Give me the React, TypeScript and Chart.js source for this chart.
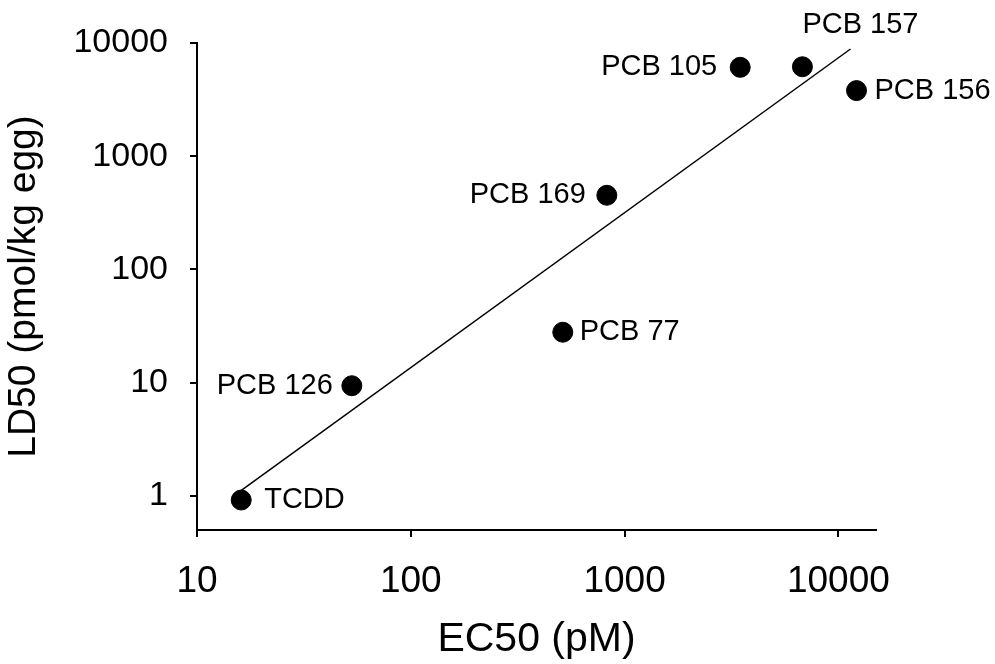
import React, { useEffect, useRef } from "react";
import { Chart, registerables } from "chart.js";

Chart.register(...registerables);

// ---- data ----
const compounds = ["TCDD", "PCB 126", "PCB 77", "PCB 169", "PCB 105", "PCB 157", "PCB 156"];
const ec50 = [16.1, 53, 514, 826, 3475, 6790, 12160];
const ld50 = [0.92, 9.4, 27.9, 452, 6100, 6170, 3800];
const fitX = [16.0, 11400];
const fitY = [1.11, 8850];
const xTicks = [10, 100, 1000, 10000];
const yTicks = [1, 10, 100, 1000, 10000];

// ---- label placement (style) ----
const labelPlacement: Record<string, { side: "left" | "right" | "above"; gap: number }> = {
  "TCDD": { side: "right", gap: 23 },
  "PCB 126": { side: "left", gap: 19 },
  "PCB 77": { side: "right", gap: 17 },
  "PCB 169": { side: "left", gap: 21 },
  "PCB 105": { side: "left", gap: 23 },
  "PCB 157": { side: "above", gap: 42 },
  "PCB 156": { side: "right", gap: 18 },
};

const FONT = "'Liberation Sans', Arial, Helvetica, sans-serif";

const pointLabels = {
  id: "pointLabels",
  afterDatasetsDraw(chart: any) {
    const meta = chart.getDatasetMeta(1);
    const ctx = chart.ctx;
    ctx.save();
    ctx.fillStyle = "#000";
    ctx.font = `29px ${FONT}`;
    ctx.textBaseline = "middle";
    meta.data.forEach((el: any, i: number) => {
      const name = compounds[i];
      const p = labelPlacement[name];
      if (p.side === "right") {
        ctx.textAlign = "left";
        ctx.fillText(name, el.x + p.gap, el.y);
      } else if (p.side === "left") {
        ctx.textAlign = "right";
        ctx.fillText(name, el.x - p.gap, el.y);
      } else {
        ctx.textAlign = "left";
        ctx.fillText(name, el.x, el.y - p.gap);
      }
    });
    ctx.restore();
  },
};

export default function App() {
  const ref = useRef<HTMLCanvasElement>(null);
  useEffect(() => {
    if (!ref.current) return;
    const chart = new Chart(ref.current, {
      type: "scatter",
      data: {
        datasets: [
          {
            label: "fit",
            data: fitX.map((x, i) => ({ x, y: fitY[i] })),
            showLine: true,
            borderColor: "#000",
            borderWidth: 1.5,
            pointRadius: 0,
            pointHoverRadius: 0,
          },
          {
            label: "compounds",
            data: ec50.map((x, i) => ({ x, y: ld50[i] })),
            backgroundColor: "#000",
            borderColor: "#000",
            pointRadius: 10,
            pointHoverRadius: 10,
            clip: false as any,
          },
        ],
      },
      options: {
        animation: false,
        responsive: false,
        events: [],
        layout: { padding: { left: 0, right: 119, top: 43, bottom: 0 } },
        plugins: {
          legend: { display: false },
          tooltip: { enabled: false },
        },
        scales: {
          x: {
            type: "logarithmic",
            min: 10,
            max: 15000,
            afterBuildTicks: (scale: any) => {
              scale.ticks = xTicks.map((v) => ({ value: v }));
            },
            afterFit: (scale: any) => {
              scale.height = 134;
            },
            border: { display: true, color: "#000", width: 2 },
            grid: { drawOnChartArea: false, drawTicks: true, tickLength: 7, color: "#000", lineWidth: 2 },
            ticks: {
              color: "#000",
              font: { family: FONT, size: 37 },
              padding: 23,
              maxRotation: 0,
              autoSkip: false,
              callback: (v: any) => String(v),
            },
            title: {
              display: true,
              text: "EC50 (pM)",
              color: "#000",
              font: { family: FONT, size: 41 },
              padding: { top: 0, bottom: 0 },
            },
          },
          y: {
            type: "logarithmic",
            min: 0.5,
            max: 10000,
            afterBuildTicks: (scale: any) => {
              scale.ticks = yTicks.map((v) => ({ value: v }));
            },
            afterFit: (scale: any) => {
              scale.width = 197;
            },
            border: { display: true, color: "#000", width: 2 },
            grid: { drawOnChartArea: false, drawTicks: true, tickLength: 7, color: "#000", lineWidth: 2 },
            ticks: {
              color: "#000",
              font: { family: FONT, size: 34 },
              padding: 22,
              autoSkip: false,
              callback: (v: any) => String(v),
            },
            title: {
              display: true,
              text: "LD50 (pmol/kg egg)",
              color: "#000",
              font: { family: FONT, size: 39 },
              padding: { top: 1, bottom: 0 },
            },
          },
        },
      },
      plugins: [pointLabels],
    });
    return () => chart.destroy();
  }, []);
  return (
    <div style={{ position: "absolute", left: 0, top: 0, width: 995, height: 664, background: "#fff" }}>
      <canvas ref={ref} width={995} height={664} />
    </div>
  );
}
